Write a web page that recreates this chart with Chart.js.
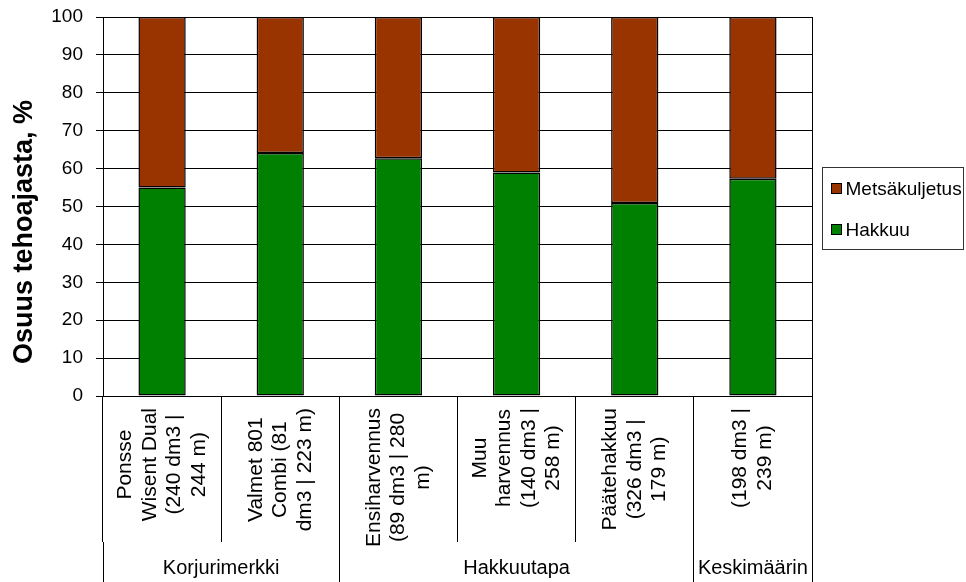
<!DOCTYPE html>
<html>
<head>
<meta charset="utf-8">
<script src="https://cdn.jsdelivr.net/npm/chart.js@4/dist/chart.umd.min.js"></script>
<style>
  html, body { margin: 0; padding: 0; background: #fff; }
  #wrap { width: 966px; height: 582px; }
</style>
</head>
<body>
<div id="wrap"><canvas id="shareChart" width="966" height="582"></canvas></div>
<script>
// ===== DATA =====
const categories = [
    ['Ponsse', 'Wisent Dual', '(240 dm3 |', '244 m)'],
    ['Valmet 801', 'Combi (81', 'dm3 | 223 m)'],
    ['Ensiharvennus', '(89 dm3 | 280', 'm)'],
    ['Muu', 'harvennus', '(140 dm3 |', '258 m)'],
    ['Päätehakkuu', '(326 dm3 |', '179 m)'],
    ['(198 dm3 |', '239 m)']
];
const groupNames = ['Korjurimerkki', 'Hakkuutapa', 'Keskimäärin'];
const groupSizes = [2, 3, 1];
const hakkuu = [55.0, 64.1, 62.7, 59.0, 50.9, 57.3];
const metsakuljetus = [45.0, 35.9, 37.3, 41.0, 49.1, 42.7];
const yTitle = 'Osuus tehoajasta, %';

const FONT = '"Liberation Sans", Arial, sans-serif';
const align = (p) => Math.round(p - 0.5) + 0.5;

// ===== CUSTOM AXIS LABELS / LEGEND =====
const extras = {
    id: 'extras',
    afterDraw(chart) {
        const { ctx, chartArea: area, scales: { x } } = chart;
        const H = chart.height;
        const tickLen = x.options.grid.tickLength;
        const half = (x.getPixelForValue(1) - x.getPixelForValue(0)) / 2;
        const boundary = (k) => k === 0 ? area.left : (k === categories.length ? area.right : x.getPixelForValue(k) - half);

        ctx.save();
        ctx.fillStyle = '#000';
        ctx.textAlign = 'center';
        ctx.textBaseline = 'middle';

        // rotated category labels
        ctx.font = '21px ' + FONT;
        categories.forEach((lines, i) => {
            const cx = x.getPixelForValue(i);
            const maxW = Math.max(...lines.map(l => ctx.measureText(l).width));
            const cy = area.bottom + 12 + maxW / 2;
            lines.forEach((line, j) => {
                const lx = cx + (j - (lines.length - 1) / 2) * 24.5;
                ctx.save();
                ctx.translate(lx, cy);
                ctx.rotate(-Math.PI / 2);
                ctx.fillText(line, 0, 0);
                ctx.restore();
            });
        });

        // group separators + labels
        ctx.strokeStyle = '#000';
        ctx.lineWidth = 1;
        let k = 0;
        const bounds = [0];
        groupSizes.forEach(n => { k += n; bounds.push(k); });
        bounds.forEach(b => {
            const bx = align(boundary(b));
            ctx.beginPath();
            ctx.moveTo(bx, area.bottom + tickLen);
            ctx.lineTo(bx, H);
            ctx.stroke();
        });
        ctx.font = '20px ' + FONT;
        groupNames.forEach((name, g) => {
            const gx = (boundary(bounds[g]) + boundary(bounds[g + 1])) / 2;
            ctx.fillText(name, gx, H - 14);
        });

        // right border of plot
        const rx = align(area.right);
        ctx.beginPath();
        ctx.moveTo(rx, area.top);
        ctx.lineTo(rx, area.bottom);
        ctx.stroke();

        // y title
        ctx.font = 'bold 27px ' + FONT;
        ctx.save();
        ctx.translate(25, 232);
        ctx.rotate(-Math.PI / 2);
        ctx.fillText(yTitle, 0, 0);
        ctx.restore();

        // legend box
        const lx = align(area.right + 10), ly = 167.5;
        ctx.strokeStyle = '#333';
        ctx.strokeRect(lx, ly, 141, 82);
        ctx.font = '19px ' + FONT;
        ctx.textAlign = 'left';
        const items = chart.data.datasets.slice().reverse();
        items.forEach((ds, i) => {
            const cy = ly + 21 + i * 41;
            ctx.fillStyle = ds.backgroundColor;
            ctx.fillRect(lx + 9, cy - 5, 10, 10);
            ctx.strokeStyle = '#000';
            ctx.strokeRect(lx + 9, cy - 5, 10, 10);
            ctx.fillStyle = '#000';
            ctx.fillText(ds.label, lx + 23, cy + 1);
        });
        ctx.restore();
    }
};

// ===== STACKED BAR CHART =====
const ctxShare = document.getElementById('shareChart');
new Chart(ctxShare, {
    type: 'bar',
    data: {
        labels: categories,
        datasets: [{
            label: 'Hakkuu',
            data: hakkuu,
            backgroundColor: '#008000',
            borderColor: '#000',
            borderWidth: 1.5,
            borderSkipped: false,
            barPercentage: 0.4,
            categoryPercentage: 1
        }, {
            label: 'Metsäkuljetus',
            data: metsakuljetus,
            backgroundColor: '#993300',
            borderColor: '#000',
            borderWidth: 1.5,
            borderSkipped: false,
            barPercentage: 0.4,
            categoryPercentage: 1
        }]
    },
    options: {
        responsive: false,
        animation: false,
        layout: { padding: { top: 17, right: 154, left: 0, bottom: 0 } },
        plugins: {
            legend: { display: false },
            tooltip: { enabled: false }
        },
        scales: {
            x: {
                stacked: true,
                ticks: { display: false },
                grid: {
                    offset: true,
                    drawOnChartArea: false,
                    drawTicks: true,
                    tickLength: 146,
                    tickColor: '#000',
                    color: '#000'
                },
                border: { color: '#000' },
                afterFit(scale) { scale.height = 186; }
            },
            y: {
                stacked: true,
                min: 0,
                max: 100,
                ticks: {
                    stepSize: 10,
                    color: '#000',
                    padding: 13,
                    font: { family: FONT, size: 19 }
                },
                grid: {
                    color: '#000',
                    tickColor: '#000',
                    tickLength: 7
                },
                border: { color: '#000' },
                afterFit(scale) {
                    scale.width = 103;
                    scale.paddingTop = 0;
                    scale.paddingBottom = 0;
                }
            }
        }
    },
    plugins: [extras]
});
</script>
</body>
</html>
